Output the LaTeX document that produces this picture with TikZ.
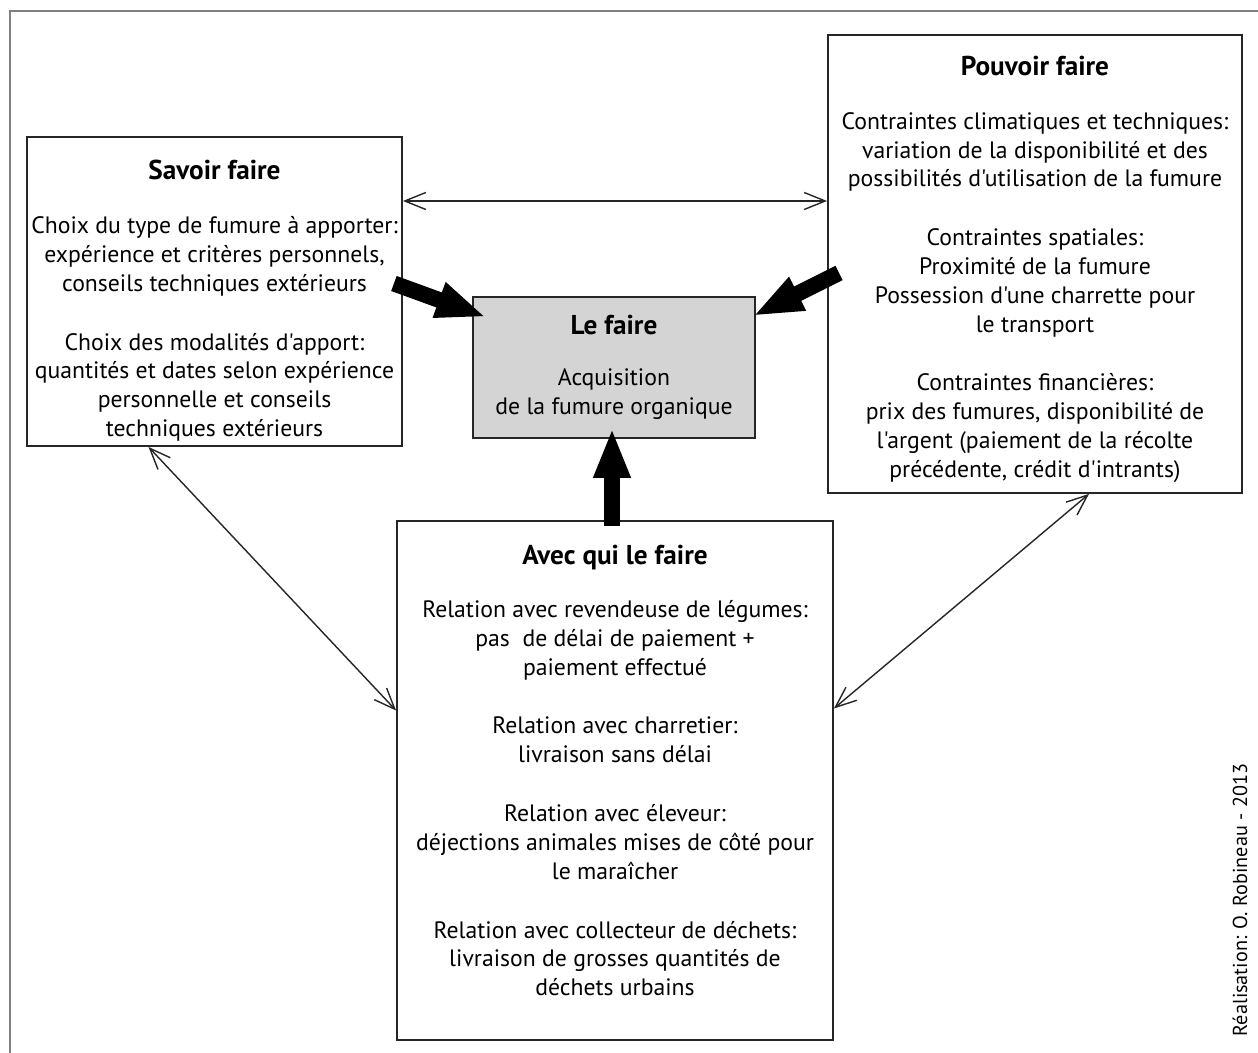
\documentclass[tikz,border=0pt]{standalone}
\usepackage{fontspec}
\setmainfont{PT Sans}[Ligatures=TeXOff]
\usetikzlibrary{arrows.meta}

\begin{document}
\begin{tikzpicture}[x=0.02cm, y=-0.02cm,
    box/.style={draw=black!85, line width=1.1pt, rectangle, align=center,
                inner sep=0pt, font=\fontsize{13.5}{16.4}\selectfont},
    link/.style={{Straight Barb[length=0.42cm,width=0.34cm]}-{Straight Barb[length=0.42cm,width=0.34cm]},
                line width=0.8pt, black!85},
    push/.style={-{Triangle[length=1cm,width=0.68cm]}, line width=0.32cm},
    frameline/.style={draw=black!50, line width=1.4pt}]
    \useasboundingbox (0,0) rectangle (1258,1053);
    \draw[frameline] (10,1053) -- (10,11) -- (1258,11);
    \node[box, minimum width=7.5cm, minimum height=6.18cm] (savoir) at (214.5, 291.5)
        {\rule{0pt}{0.76cm}{\fontsize{15.5}{16.4}\selectfont\bfseries Savoir faire}\\[0.5cm]
         Choix du type de fumure à apporter:\\
         expérience et critères personnels,\\
         conseils techniques extérieurs\\[0.6cm]
         Choix des modalités d'apport:\\
         quantités et dates selon expérience\\
         personnelle et conseils\\
         techniques extérieurs};
    \node[box, minimum width=8.28cm, minimum height=9.16cm] (pouvoir) at (1035, 264)
        {\rule{0pt}{0.6cm}{\fontsize{15.5}{16.4}\selectfont\bfseries Pouvoir faire}\\[0.5cm]
         Contraintes climatiques et techniques:\\
         variation de la disponibilité et des\\
         possibilités d'utilisation de la fumure\\[0.6cm]
         Contraintes spatiales:\\
         Proximité de la fumure\\
         Possession d'une charrette pour\\
         le transport\\[0.6cm]
         Contraintes financières:\\
         prix des fumures, disponibilité de\\
         l'argent (paiement de la récolte\\
         précédente, crédit d'intrants)};
    \node[box, fill=black!17, minimum width=5.64cm, minimum height=2.82cm] (lefaire) at (614, 367.5)
        {{\fontsize{15.5}{16.4}\selectfont\bfseries Le faire}\\[0.45cm]
         Acquisition\\
         de la fumure organique};
    \node[box, minimum width=8.72cm, minimum height=10.38cm] (avec) at (615, 780.5)
        {{\fontsize{15.5}{16.4}\selectfont\bfseries Avec qui le faire}\\[0.48cm]
         Relation avec revendeuse de légumes:\\
         pas\ \ de délai de paiement +\\
         paiement effectué\\[0.6cm]
         Relation avec charretier:\\
         livraison sans délai\\[0.6cm]
         Relation avec éleveur:\\
         déjections animales mises de côté pour\\
         le maraîcher\\[0.6cm]
         Relation avec collecteur de déchets:\\
         livraison de grosses quantités de\\
         déchets urbains\rule[-0.4cm]{0pt}{0pt}};
    \node[rotate=90, font=\fontsize{11.5}{14}\selectfont] (credit) at (1240, 900)
        {Réalisation: O. Robineau - 2013};
    \coordinate (hlink) at (0, 201);
    \draw[link] (savoir.east |- hlink) -- (pouvoir.west |- hlink);
    \draw[link] ([shift={(-66,0)}]savoir.south) -- ([shift={(0,-70)}]avec.west);
    \draw[link] ([shift={(54,0)}]pouvoir.south) -- ([shift={(0,-72)}]avec.east);
    \draw[push] ([shift={(-9,-8)}]savoir.east) -- ([shift={(14,21)}]lefaire.north west);
    \draw[push] ([shift={(12,9)}]pouvoir.west) -- ([shift={(-3,20)}]lefaire.north east);
    \draw[push] ([shift={(-3,6)}]avec.north) -- ([shift={(-2,-11)}]lefaire.south);
\end{tikzpicture}
\end{document}
